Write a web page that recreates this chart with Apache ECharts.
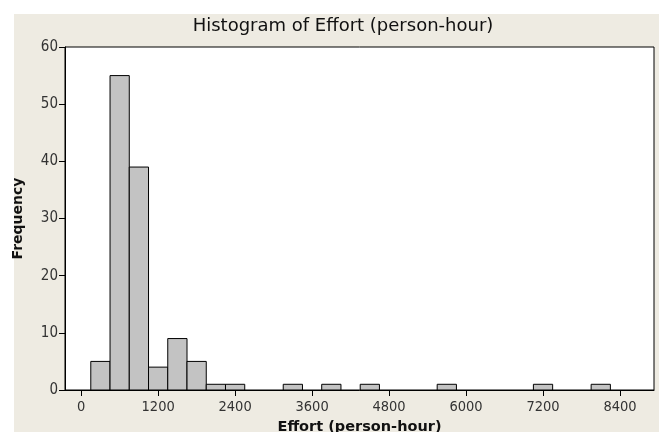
<!DOCTYPE html>
<html><head><meta charset="utf-8">
<script src="https://cdn.jsdelivr.net/npm/echarts@6/dist/echarts.min.js"></script>
<style>html,body{margin:0;padding:0;background:#fff}#c{width:659px;height:432px}</style>
</head><body><div id="c"></div>
<script>
// Histogram bins (bin width 300 person-hours), only non-empty bins
const binStarts = [150, 450, 750, 1050, 1350, 1650, 1950, 2250, 3150, 3750, 4350, 5550, 7050, 7950];
const binEnds   = [450, 750, 1050, 1350, 1650, 1950, 2250, 2550, 3450, 4050, 4650, 5850, 7350, 8250];
const counts    = [5, 55, 39, 4, 9, 5, 1, 1, 1, 1, 1, 1, 1, 1];
const xTicks = [0, 1200, 2400, 3600, 4800, 6000, 7200, 8400];
const yTicks = [0, 10, 20, 30, 40, 50, 60];

const data = binStarts.map((s, i) => [s, binEnds[i], counts[i]]);
const font = '"DejaVu Sans", sans-serif';
const fontC = '"DejaVu Sans Condensed", "DejaVu Sans", sans-serif';
const chart = echarts.init(document.getElementById('c'), null, {renderer: 'canvas'});
chart.setOption({
  backgroundColor: '#ffffff',
  animation: false,
  graphic: {elements: [{type: 'rect', z: -100, silent: true,
    shape: {x: 14, y: 14, width: 645, height: 418}, style: {fill: '#EEEBE2'}}]},
  title: {text: 'Histogram of Effort (person-hour)', left: 338, top: 12, textAlign: 'center',
    textStyle: {fontFamily: font, fontSize: 18, fontWeight: 'normal', color: '#111'}},
  grid: {left: 65, top: 47, right: 5, bottom: 42, show: true, backgroundColor: '#fff',
    borderColor: '#000', borderWidth: 1, containLabel: false, outerBoundsMode: 'none'},
  xAxis: {type: 'value', min: -252, max: 8930,
    name: 'Effort (person-hour)', nameLocation: 'middle', nameGap: 29,
    nameTextStyle: {fontFamily: font, fontSize: 14.5, fontWeight: 'bold', color: '#111'},
    axisLine: {show: true, onZero: false, lineStyle: {color: '#000'}},
    axisTick: {show: true, customValues: xTicks, length: 6, lineStyle: {color: '#000'}},
    axisLabel: {customValues: xTicks, formatter: v => String(v), fontFamily: fontC, fontSize: 14.5, color: '#333', margin: 10},
    splitLine: {show: false}},
  yAxis: {type: 'value', min: 0, max: 60, interval: 10,
    name: 'Frequency', nameLocation: 'middle', nameGap: 40,
    nameTextStyle: {fontFamily: font, fontSize: 14, fontWeight: 'bold', color: '#111'},
    axisLine: {show: true, onZero: false, lineStyle: {color: '#000'}},
    axisTick: {show: true, length: 6, lineStyle: {color: '#000'}},
    axisLabel: {formatter: v => String(v), fontFamily: fontC, fontSize: 15, color: '#333', margin: 7},
    splitLine: {show: false}},
  series: [{type: 'custom', data: data,
    encode: {x: [0, 1], y: 2},
    renderItem: function (params, api) {
      const p0 = api.coord([api.value(0), 0]);
      const p1 = api.coord([api.value(1), api.value(2)]);
      return {type: 'rect',
        shape: {x: p0[0], y: p1[1], width: p1[0] - p0[0], height: p0[1] - p1[1]},
        style: {fill: '#C3C3C3', stroke: '#000', lineWidth: 1}};
    }}]
});
</script></body></html>
